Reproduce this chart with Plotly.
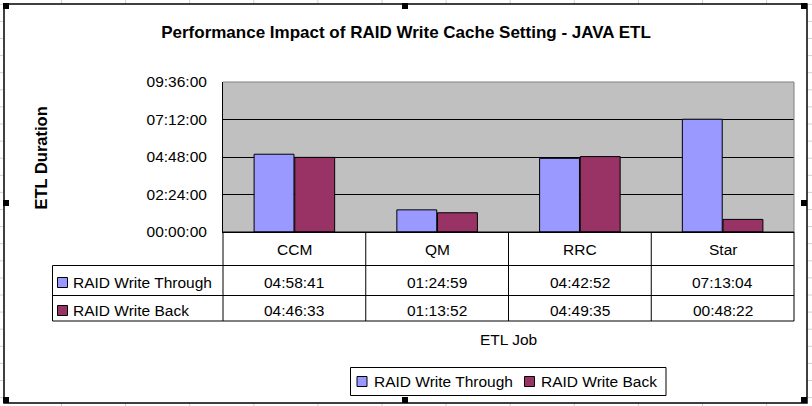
import plotly.graph_objects as go

# ---------------- data ----------------
jobs = ["CCM", "QM", "RRC", "Star"]
series_names = ["RAID Write Through", "RAID Write Back"]
write_through = ["04:58:41", "01:24:59", "04:42:52", "07:13:04"]
write_back = ["04:46:33", "01:13:52", "04:49:35", "00:48:22"]
y_tick_hours = [0, 2.4, 4.8, 7.2, 9.6]
y_tick_labels = ["00:00:00", "02:24:00", "04:48:00", "07:12:00", "09:36:00"]
colors = ["#9999FF", "#993366"]


def to_hours(s):
    h, m, sec = (int(v) for v in s.split(":"))
    return h + m / 60 + sec / 3600


series_text = [write_through, write_back]
series_vals = [[to_hours(s) for s in write_through], [to_hours(s) for s in write_back]]

# ---------------- layout geometry ----------------
W, H = 812, 406
L, R, T, B = 223, 794, 82, 232
PW, PH = R - L, B - T


def px(x):
    return (x - L) / PW


def py(y):
    return (B - y) / PH


FONT = "Liberation Sans, Arial, sans-serif"
FS = 15.5

fig = go.Figure()
for name, vals, col in zip(series_names, series_vals, colors):
    fig.add_trace(go.Bar(
        x=jobs, y=vals, name=name,
        marker=dict(color=col, line=dict(color="black", width=1)),
        hoverinfo="x+y+name", showlegend=False,
    ))

shapes = []
ann = []

# spreadsheet cell lines visible around the chart object
for k in range(13):
    gx = 61.5 + 64.1 * k
    for (ya, yb) in [(0, 4), (403, 406)]:
        shapes.append(dict(type="line", xref="paper", yref="paper", x0=px(gx), x1=px(gx),
                           y0=py(ya), y1=py(yb), line=dict(color="#d0d0d0", width=1),
                           layer="below"))
for k in range(24):
    gy = 4.3 + 17.1 * k
    for (xa, xb) in [(0, 3), (807, 812)]:
        shapes.append(dict(type="line", xref="paper", yref="paper", x0=px(xa), x1=px(xb),
                           y0=py(gy), y1=py(gy), line=dict(color="#d0d0d0", width=1),
                           layer="below"))

# plot-area border: top/right gray
shapes.append(dict(type="line", xref="paper", yref="paper", x0=0, x1=1, y0=1, y1=1,
                   line=dict(color="#808080", width=1), layer="above"))
shapes.append(dict(type="line", xref="paper", yref="paper", x0=1, x1=1, y0=0, y1=1,
                   line=dict(color="#808080", width=1), layer="above"))

# ---------------- data table ----------------
row_y = [B, 265.5, 295.5, 321]  # header top, row1 top, row2 top, bottom
lw = dict(color="black", width=1)
shapes.append(dict(type="line", xref="paper", yref="paper", x0=0, x1=1,
                   y0=py(row_y[0]), y1=py(row_y[0]), line=lw))
for yy in row_y[1:]:
    shapes.append(dict(type="line", xref="paper", yref="paper", x0=px(52.5), x1=1,
                       y0=py(yy), y1=py(yy), line=lw))
shapes.append(dict(type="line", xref="paper", yref="paper", x0=0, x1=0,
                   y0=py(row_y[0]), y1=py(row_y[3]), line=lw))
shapes.append(dict(type="line", xref="paper", yref="paper", x0=1, x1=1,
                   y0=py(row_y[0]), y1=py(row_y[3]), line=lw))
shapes.append(dict(type="line", xref="paper", yref="paper", x0=px(52.5), x1=px(52.5),
                   y0=py(row_y[1]), y1=py(row_y[3]), line=lw))
for i in range(1, len(jobs)):
    shapes.append(dict(type="line", xref="x", yref="paper", x0=i - 0.5, x1=i - 0.5,
                       y0=py(row_y[0]), y1=py(row_y[3]), line=lw))

for j in jobs:
    ann.append(dict(x=j, xref="x", y=py(249), yref="paper", text=j, showarrow=False,
                    font=dict(size=FS, color="black", family=FONT), yanchor="middle"))

row_centers = [282.5, 310.5]
for r, (name, texts, col) in enumerate(zip(series_names, series_text, colors)):
    yc = row_centers[r]
    for j, t in zip(jobs, texts):
        ann.append(dict(x=j, xref="x", y=py(yc), yref="paper", text=t, showarrow=False,
                        font=dict(size=FS, color="black", family=FONT), yanchor="middle"))
    ann.append(dict(x=px(71), xref="paper", y=py(yc), yref="paper", text=name,
                    showarrow=False, xanchor="left", yanchor="middle",
                    font=dict(size=FS, color="black", family=FONT)))
    shapes.append(dict(type="rect", xref="paper", yref="paper",
                       x0=px(57.5), x1=px(67.5), y0=py(yc - 5), y1=py(yc + 5),
                       fillcolor=col, line=dict(color="black", width=1)))

# ---------------- legend (Excel style) ----------------
shapes.append(dict(type="rect", xref="paper", yref="paper",
                   x0=px(350.5), x1=px(666), y0=py(367.5), y1=py(395.5),
                   fillcolor="white", line=dict(color="black", width=1)))
leg_sq_x = [357, 524.5]
leg_text_x = [371.5, 539]
for name, col, sx, tx in zip(series_names, colors, leg_sq_x, leg_text_x):
    shapes.append(dict(type="rect", xref="paper", yref="paper",
                       x0=px(sx), x1=px(sx + 10), y0=py(376.5), y1=py(386.5),
                       fillcolor=col, line=dict(color="black", width=1)))
    ann.append(dict(x=px(tx), xref="paper", y=py(381.5), yref="paper", text=name,
                    showarrow=False, xanchor="left", yanchor="middle",
                    font=dict(size=FS, color="black", family=FONT)))

# axis titles
ann.append(dict(x=px(40.5), xref="paper", y=py(158), yref="paper", text="<b>ETL Duration</b>",
                textangle=-90, showarrow=False, xanchor="center", yanchor="middle",
                font=dict(size=16.5, color="black", family=FONT)))
ann.append(dict(x=0.5, xref="paper", y=py(339), yref="paper", text="ETL Job",
                showarrow=False, yanchor="middle", xanchor="center",
                font=dict(size=FS, color="black", family=FONT)))

# chart outer frame
shapes.append(dict(type="rect", xref="paper", yref="paper",
                   x0=px(4), x1=px(807), y0=py(4), y1=py(403),
                   line=dict(color="black", width=1.5), layer="below"))
# selection handles
for hx in [3, 402, 801]:
    for hy in [3, 200, 397]:
        if hx == 402 and hy == 200:
            continue
        shapes.append(dict(type="rect", xref="paper", yref="paper",
                           x0=px(hx), x1=px(hx + 6), y0=py(hy), y1=py(hy + 6),
                           fillcolor="black", line=dict(width=0)))

fig.update_layout(
    width=W, height=H,
    margin=dict(l=L, r=W - R, t=T, b=H - B),
    paper_bgcolor="white",
    plot_bgcolor="#C0C0C0",
    barmode="group",
    bargap=0.43,
    bargroupgap=0.02,
    title=dict(text="<b>Performance Impact of RAID Write Cache Setting - JAVA ETL</b>",
               x=0.5, xref="container", xanchor="center",
               y=1 - 32 / H, yref="container", yanchor="middle",
               font=dict(size=17, color="black", family=FONT)),
    font=dict(family=FONT, color="black", size=FS),
    xaxis=dict(type="category", range=[-0.5, 3.5], showticklabels=False, showgrid=False,
               showline=True, linecolor="black", linewidth=1, ticks="", zeroline=False,
               fixedrange=True),
    yaxis=dict(range=[0, 9.6], tickvals=y_tick_hours, ticktext=y_tick_labels,
               showgrid=True, gridcolor="black", gridwidth=1, showline=True,
               linecolor="black", linewidth=1, ticks="", zeroline=False,
               ticklabelstandoff=12, tickfont=dict(size=FS, color="black", family=FONT),
               fixedrange=True),
    showlegend=False,
    shapes=shapes,
    annotations=ann,
)

fig.write_html("out.html", config={"displayModeBar": False},
               post_script="document.body.style.margin='0';document.body.style.overflow='hidden';")
